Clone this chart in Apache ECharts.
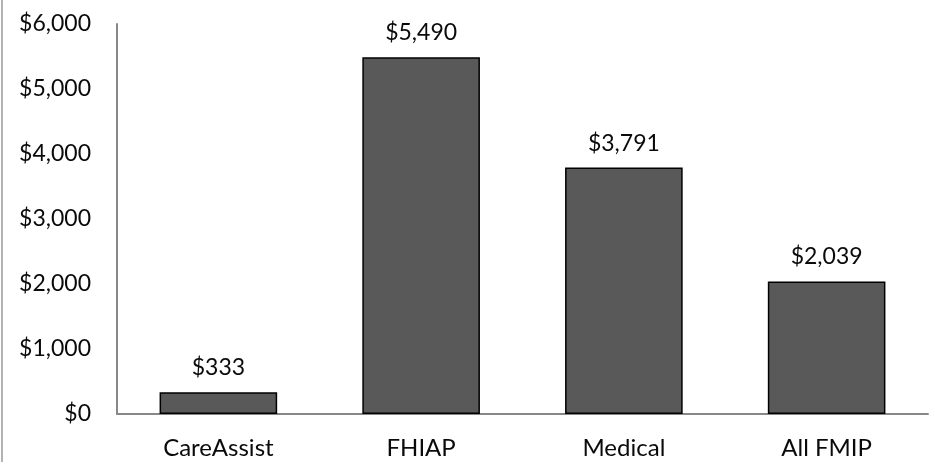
<!DOCTYPE html>
<html>
<head>
<meta charset="utf-8">
<script src="https://cdn.jsdelivr.net/npm/echarts@6/dist/echarts.min.js"></script>
<style>
html,body{margin:0;padding:0;background:#fff;}
#chart{width:935px;height:466px;}
</style>
</head>
<body>
<div id="chart"></div>
<script>
const categories = ["CareAssist", "FHIAP", "Medical", "All FMIP"];
const values = [333, 5490, 3791, 2039];
const yTicks = { min: 0, max: 6000, interval: 1000 };

function money(v) {
  return "$" + Number(v).toLocaleString("en-US");
}

const chart = echarts.init(document.getElementById("chart"), null, { renderer: "canvas" });
chart.setOption({
  animation: false,
  backgroundColor: "#ffffff",
  textStyle: { fontFamily: "Lato" },
  grid: { left: 117, right: 7, top: 24, bottom: 52, containLabel: false },
  graphic: [{
    type: "line",
    shape: { x1: 2, y1: 0, x2: 2, y2: 462 },
    style: { stroke: "#9a9a9a", lineWidth: 1.5 }
  }],
  xAxis: {
    type: "category",
    data: categories,
    axisLine: { lineStyle: { color: "#888888", width: 2 } },
    axisTick: { show: false },
    axisLabel: { color: "#0a0a0a", fontSize: 24, fontFamily: "Lato", margin: 22 }
  },
  yAxis: {
    type: "value",
    min: yTicks.min,
    max: yTicks.max,
    interval: yTicks.interval,
    axisLine: { show: true, lineStyle: { color: "#888888", width: 2 } },
    axisTick: { show: false },
    splitLine: { show: false },
    axisLabel: { color: "#0a0a0a", fontSize: 23, fontFamily: "Lato", margin: 26, formatter: money, padding: [6, 0, 0, 0] }
  },
  series: [{
    type: "bar",
    data: values,
    barWidth: "58%",
    itemStyle: { color: "#595959", borderColor: "#000000", borderWidth: 1.5 },
    label: {
      show: true,
      position: "top",
      distance: 13,
      color: "#0a0a0a",
      fontSize: 23,
      fontFamily: "Lato",
      formatter: p => money(p.value)
    }
  }]
});
</script>
</body>
</html>
